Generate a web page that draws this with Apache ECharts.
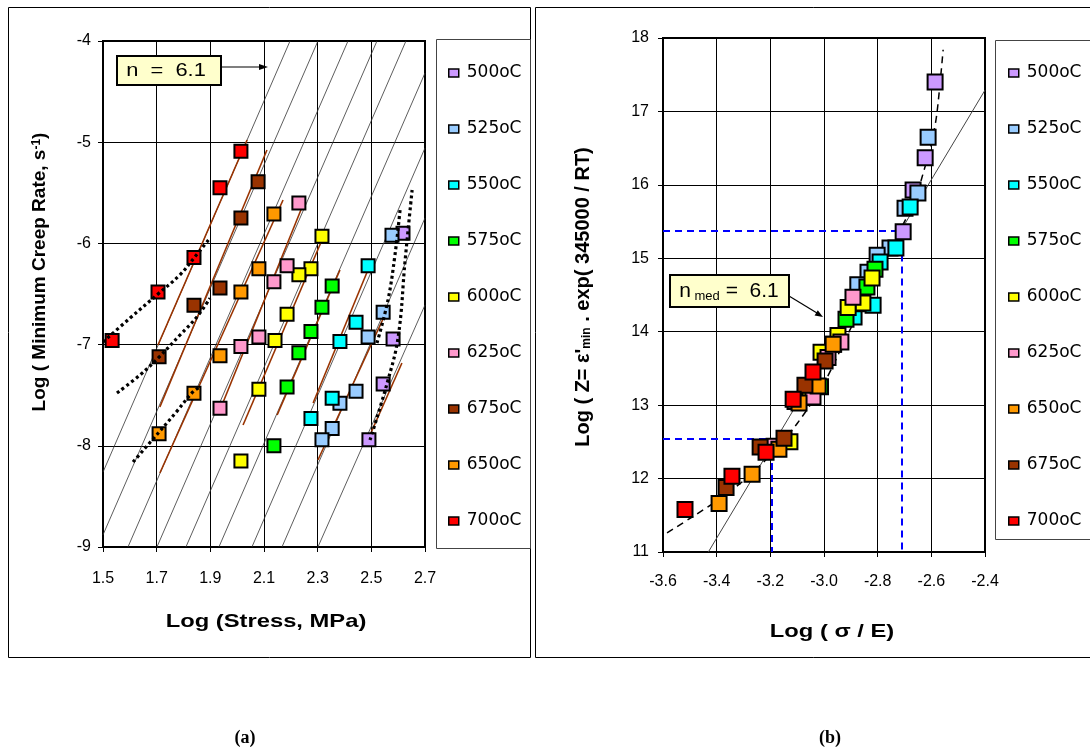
<!DOCTYPE html>
<html><head><meta charset="utf-8">
<script src="https://cdn.jsdelivr.net/npm/echarts@6/dist/echarts.min.js"></script>
<style>html,body{margin:0;padding:0;background:#fff}#c{width:1090px;height:752px}</style>
</head><body><div id="c"></div>
<script>
// ---------- DATA ----------
const temps = ['500oC','525oC','550oC','575oC','600oC','625oC','650oC','675oC','700oC'];
const leftLegendOrder  = ['500oC','525oC','550oC','575oC','600oC','625oC','675oC','650oC','700oC'];
const rightLegendOrder = ['500oC','525oC','550oC','575oC','600oC','625oC','650oC','675oC','700oC'];
const xTicksA = [1.5,2.7,0.2];   // min, max, step  (Log stress)
const yTicksA = [-9,-4,1];
const xTicksB = [-3.6,-2.4,0.2]; // Log(sigma/E)
const yTicksB = [11,18,1];

// (a) Log stress [MPa] vs Log min creep rate
const a500 = [[2.618,-5.90],[2.581,-6.945],[2.544,-7.39],[2.491,-7.94]];
const a525 = [[2.577,-5.92],[2.544,-6.68],[2.488,-6.925],[2.443,-7.46],[2.383,-7.58],[2.354,-7.83],[2.316,-7.94]];
const a550 = [[2.488,-6.22],[2.443,-6.78],[2.383,-6.97],[2.354,-7.53],[2.275,-7.73]];
const a575 = [[2.354,-6.42],[2.316,-6.63],[2.275,-6.87],[2.230,-7.08],[2.186,-7.42],[2.137,-8.00]];
const a600 = [[2.316,-5.93],[2.275,-6.25],[2.230,-6.31],[2.186,-6.70],[2.141,-6.96],[2.081,-7.44],[2.014,-8.15]];
const a625 = [[2.230,-5.60],[2.186,-6.22],[2.137,-6.38],[2.081,-6.925],[2.014,-7.02],[1.936,-7.63]];
const a650 = [[2.137,-5.71],[2.081,-6.25],[2.014,-6.48],[1.936,-7.11],[1.839,-7.48],[1.709,-7.88]];
const a675 = [[2.078,-5.39],[2.014,-5.75],[1.936,-6.44],[1.839,-6.61],[1.709,-7.12]];
const a700 = [[2.014,-5.09],[1.936,-5.45],[1.839,-6.14],[1.705,-6.48],[1.534,-6.96]];

// (b) Log(sigma/E) vs Log Z
const b500 = [[-2.586,17.40],[-2.623,16.37],[-2.668,15.93],[-2.705,15.36]];
const b525 = [[-2.612,16.65],[-2.650,15.89],[-2.698,15.68],[-2.754,15.14],[-2.802,15.04],[-2.836,14.81],[-2.874,14.64]];
const b550 = [[-2.679,15.70],[-2.732,15.14],[-2.791,14.95],[-2.817,14.36],[-2.888,14.20]];
const b575 = [[-2.810,14.85],[-2.840,14.61],[-2.875,14.38],[-2.918,14.17],[-2.964,13.83],[-3.013,13.25]];
const b600 = [[-2.821,14.73],[-2.855,14.39],[-2.910,14.33],[-2.948,13.95],[-3.011,13.72],[-3.059,13.20],[-3.127,12.50]];
const b625 = [[-2.892,14.47],[-2.937,13.86],[-2.985,13.65],[-3.041,13.11],[-3.108,13.05],[-3.186,12.44]];
const b650 = [[-2.966,13.83],[-3.022,13.26],[-3.093,13.03],[-3.168,12.40],[-3.268,12.06],[-3.391,11.66]];
const b675 = [[-2.996,13.60],[-3.071,13.27],[-3.149,12.55],[-3.238,12.43],[-3.365,11.88]];
const b700 = [[-3.041,13.45],[-3.115,13.08],[-3.216,12.36],[-3.343,12.03],[-3.518,11.58]];

// (a) n = 6.1 reference lines (x1,y1,x2,y2)
const aModelLines = [
  [2.197,-4,1.5,-8.26],[2.301,-4,1.5,-8.88],[2.413,-4,1.593,-9],[2.521,-4,1.701,-9],
  [2.629,-4,1.809,-9],[2.7,-4.316,1.932,-9],[2.7,-5.057,2.055,-9],[2.7,-5.749,2.167,-9],[2.7,-6.609,2.301,-9]
];
// (a) per-temperature fitted lines (brown)
const aFitLines = [
  [2.037,-4.978,1.705,-7.004],[2.111,-5.077,1.712,-7.617],[2.171,-5.571,1.712,-8.269],
  [2.245,-5.621,1.936,-7.646],[2.316,-5.966,2.022,-7.794],[2.383,-6.263,2.149,-7.696],
  [2.495,-6.213,2.283,-7.577],[2.559,-6.658,2.301,-8.140],[2.614,-7.182,2.495,-7.893]
];
// (a) dotted curves
const aDot1 = [[1.5,-6.974],[1.601,-6.737],[1.705,-6.5],[1.787,-6.31],[1.839,-6.144],[1.899,-5.947]];
const aDot2 = [[1.552,-7.478],[1.638,-7.30],[1.709,-7.123],[1.787,-6.905],[1.850,-6.727],[1.899,-6.54]];
const aDot3 = [[1.612,-8.16],[1.709,-7.864],[1.775,-7.66],[1.835,-7.468],[1.862,-7.42]];
const aDot4 = [[2.521,-6.984],[2.562,-6.56],[2.588,-6.115],[2.607,-5.67]];
const aDot5 = [[2.495,-7.943],[2.559,-7.38],[2.600,-6.925],[2.626,-6.164],[2.652,-5.472]];

// (b) dashed trend curve and n=6.1 line
const bCurve = [[-3.585,11.26],[-3.49,11.48],[-3.39,11.72],[-3.29,12.0],[-3.2,12.32],[-3.1,12.75],[-3.0,13.3],
  [-2.9,14.05],[-2.8,14.75],[-2.74,15.2],[-2.70,15.5],[-2.665,15.75],[-2.635,16.1],[-2.597,16.61],[-2.579,16.98],[-2.556,17.84]];
const bLine = [-3.431,11,-2.4,17.29];
const bBlue = [[-3.6,15.38,-2.709,15.38],[-2.709,15.38,-2.709,11],[-3.6,12.54,-3.193,12.54],[-3.193,12.54,-3.193,11]];

const colors = ['#CC99FF','#99CCFF','#00FFFF','#00FF00','#FFFF00','#FF99CC','#FF9900','#993300','#FF0000'];
const aData = [a500,a525,a550,a575,a600,a625,a650,a675,a700];
const bData = [b500,b525,b550,b575,b600,b625,b650,b675,b700];

// ---------- CHART ----------
const FONT = "'Liberation Sans', Arial, sans-serif";
const chart = echarts.init(document.getElementById('c'));

function valAxis(grid, t, margin, isX){
  return {
    type:'value', gridIndex:grid, min:t[0], max:t[1], interval:t[2],
    axisLine:{show:true, onZero:false, lineStyle:{color:'#000', width:2}},
    axisTick:{show:true, length:5, lineStyle:{color:'#000', width:1}},
    axisLabel:{color:'#000', fontSize:16, fontFamily:FONT, margin:margin,
      formatter: v => isX ? (+v).toFixed(1) : String(Math.round(v))},
    splitLine:{show:true, lineStyle:{color:'#000', width:1}}
  };
}
const segs = arr => arr.map(s => ({coords:[[s[0],s[1]],[s[2],s[3]]]}));

const series = [];
series.push({type:'lines', coordinateSystem:'cartesian2d', xAxisIndex:0, yAxisIndex:0, silent:true, z:1,
  lineStyle:{color:'#333', width:0.8, opacity:1}, data:segs(aModelLines)});
series.push({type:'lines', coordinateSystem:'cartesian2d', xAxisIndex:0, yAxisIndex:0, silent:true, z:1,
  lineStyle:{color:'#993300', width:1.6, opacity:1}, data:segs(aFitLines)});
[aDot1,aDot2,aDot3,aDot4,aDot5].forEach(d => series.push({type:'line', xAxisIndex:0, yAxisIndex:0, data:d,
  smooth:0.4, symbol:'none', silent:true, z:4, lineStyle:{color:'#000', width:3.2, type:[3,3]}}));

series.push({type:'lines', coordinateSystem:'cartesian2d', xAxisIndex:1, yAxisIndex:1, silent:true, z:1,
  lineStyle:{color:'#444', width:1, opacity:1}, data:segs([bLine])});
series.push({type:'lines', coordinateSystem:'cartesian2d', xAxisIndex:1, yAxisIndex:1, silent:true, z:1,
  lineStyle:{color:'#0000FF', width:2, opacity:1, type:[7,5]}, data:segs(bBlue)});
series.push({type:'line', xAxisIndex:1, yAxisIndex:1, data:bCurve, smooth:0.3, symbol:'none', silent:true, z:1,
  lineStyle:{color:'#000', width:1.5, type:[7,5]}});

temps.forEach((t,i) => {
  series.push({name:t, type:'scatter', xAxisIndex:0, yAxisIndex:0, data:aData[i], symbol:'rect', symbolSize:13, z:3,
    itemStyle:{color:colors[i], borderColor:'#000', borderWidth:2, opacity:1}, emphasis:{disabled:true}});
});
temps.forEach((t,i) => {
  series.push({name:t, type:'scatter', xAxisIndex:1, yAxisIndex:1, data:bData[i], symbol:'rect', symbolSize:15, z:3,
    itemStyle:{color:colors[i], borderColor:'#000', borderWidth:2, opacity:1}, emphasis:{disabled:true}});
});

const legendCommon = {orient:'vertical', itemWidth:10, itemHeight:8, selectedMode:false,
  itemStyle:{borderWidth:1.5, borderColor:'#000'},
  textStyle:{fontSize:17, fontFamily:"'DejaVu Sans', sans-serif", color:'#000', lineHeight:18, padding:[0,0,0,3]}};

const T = (text, x, y, size, sx) => ({type:'text', x, y, scaleX:sx, style:{text, fill:'#000', font:'bold ' + size + 'px ' + FONT, align:'center', verticalAlign:'middle'}});

chart.setOption({
  animation:false,
  backgroundColor:'#fff',
  grid:[
    {left:103, top:41, width:322, height:506, show:true, borderColor:'#000', borderWidth:2},
    {left:663, top:38, width:322, height:514, show:true, borderColor:'#000', borderWidth:2}
  ],
  xAxis:[valAxis(0,xTicksA,24,true), valAxis(1,xTicksB,22,true)],
  yAxis:[valAxis(0,yTicksA,12,false), valAxis(1,yTicksB,14,false)],
  legend:[
    Object.assign({data:leftLegendOrder, left:443, top:59, itemGap:38}, legendCommon),
    Object.assign({data:rightLegendOrder, left:1003, top:59, itemGap:38}, legendCommon)
  ],
  series,
  graphic:[
    {type:'rect', shape:{x:8.5, y:7.5, width:522, height:650}, style:{fill:'none', stroke:'#000', lineWidth:1}, silent:true},
    {type:'rect', shape:{x:535.5, y:7.5, width:600, height:650}, style:{fill:'none', stroke:'#000', lineWidth:1}, silent:true},
    {type:'rect', shape:{x:436.5, y:39.5, width:94, height:509}, style:{fill:'none', stroke:'#444', lineWidth:1}, silent:true},
    {type:'rect', shape:{x:995.5, y:40.5, width:100, height:499}, style:{fill:'none', stroke:'#444', lineWidth:1}, silent:true},
    // annotation (a)
    {type:'rect', shape:{x:117, y:56, width:104, height:29}, style:{fill:'#FFFFCC', stroke:'#000', lineWidth:2}, z:10},
    {type:'text', x:166, y:71, z:11, scaleX:1.15, style:{text:'n  =  6.1', fill:'#000', font:'19px ' + FONT, align:'center', verticalAlign:'middle'}},
    {type:'line', shape:{x1:221, y1:67, x2:261, y2:67}, style:{stroke:'#000', lineWidth:1.2}, z:10},
    {type:'polygon', shape:{points:[[268,67],[259,64],[259,70]]}, style:{fill:'#000'}, z:10},
    // annotation (b)
    {type:'rect', shape:{x:670, y:275, width:119, height:32}, style:{fill:'#FFFFCC', stroke:'#000', lineWidth:2}, z:10},
    {type:'text', x:729, y:291, z:11, style:{text:'{n|n}{s| med}{n| =  6.1}', align:'center', verticalAlign:'middle', fill:'#000',
      rich:{n:{fontSize:21, fontFamily:FONT, lineHeight:24, verticalAlign:'middle'}, s:{fontSize:13, fontFamily:FONT, lineHeight:12, verticalAlign:'bottom'}}}},
    {type:'line', shape:{x1:789, y1:296, x2:817, y2:313}, style:{stroke:'#000', lineWidth:1.2}, z:10},
    {type:'polygon', shape:{points:[[823,317],[814.6,315.4],[817.8,310.2]]}, style:{fill:'#000'}, z:10},
    // axis titles
    T('Log (Stress, MPa)', 266, 622, 19, 1.25),
    T('Log ( \u03c3 / E)', 832, 632, 19, 1.25),
    {type:'text', x:40, y:272, rotation:Math.PI/2, style:{text:'Log ( Minimum Creep Rate, s{sup|-1})', fill:'#000', align:'center', verticalAlign:'middle',
      font:'bold 19px ' + FONT, rich:{sup:{font:'bold 12px ' + FONT, lineHeight:12, verticalAlign:'top'}}}},
    {type:'text', x:583, y:297, rotation:Math.PI/2, style:{text:"Log ( Z= \u03b5'{sub|min} . exp( 345000 / RT)", fill:'#000', align:'center', verticalAlign:'middle',
      font:'bold 20px ' + FONT, rich:{sub:{font:'bold 12px ' + FONT, lineHeight:12, verticalAlign:'bottom'}}}},
    // captions
    {type:'text', x:245, y:738, style:{text:'(a)', fill:'#000', font:"bold 18px 'Liberation Serif', 'Times New Roman', serif", align:'center', verticalAlign:'middle'}},
    {type:'text', x:830, y:738, style:{text:'(b)', fill:'#000', font:"bold 18px 'Liberation Serif', 'Times New Roman', serif", align:'center', verticalAlign:'middle'}}
  ]
});
</script></body></html>
